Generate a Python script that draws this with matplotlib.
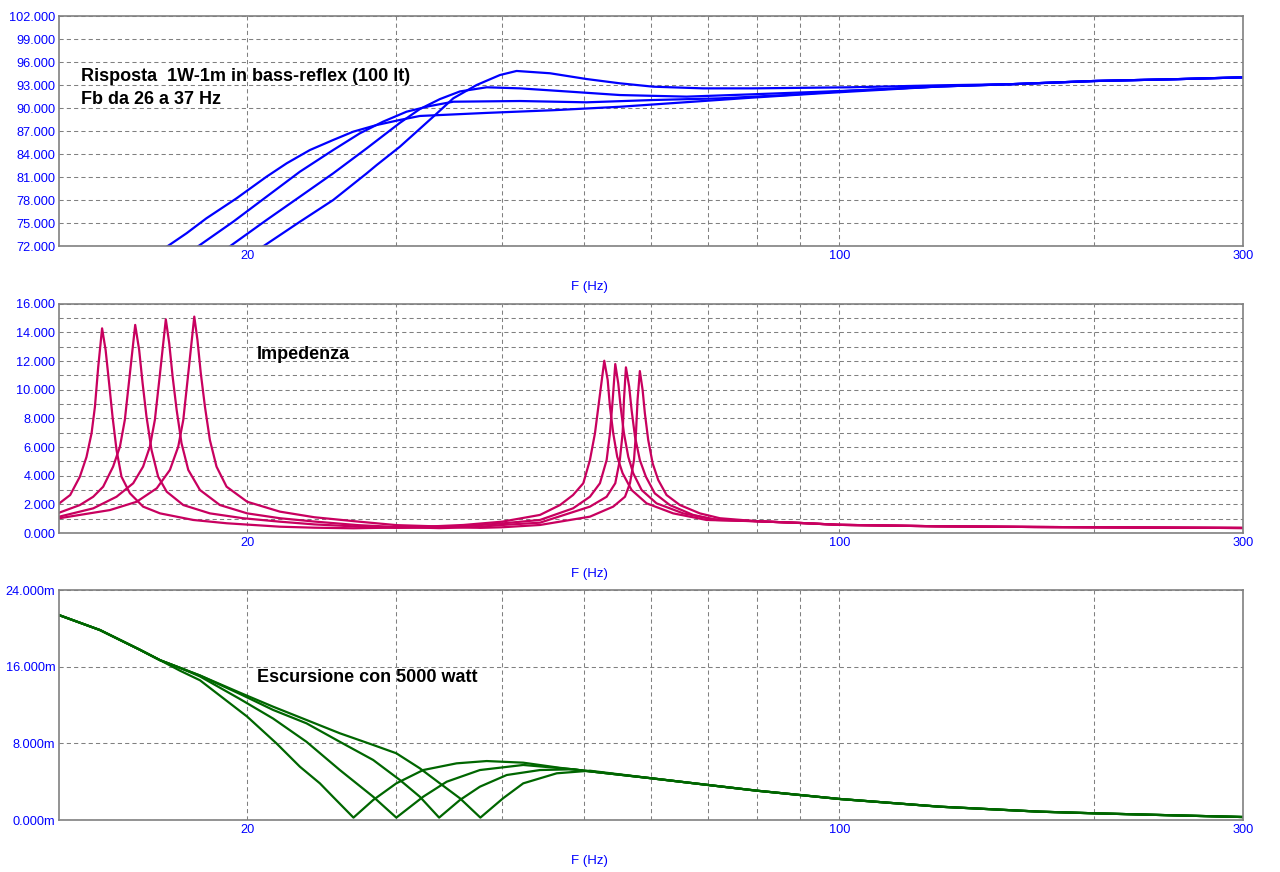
import matplotlib
matplotlib.use('Agg')
import matplotlib.pyplot as plt
from matplotlib.ticker import FixedLocator, NullFormatter

plt.rcParams['font.family'] = ['Liberation Sans', 'DejaVu Sans']

# ==========================================
# Risposta SPL 1W-1m (dB), Fb ~26.7 / 30 / 33.7 / 37.7 Hz
# ==========================================
spl_tail_f = [131.5, 160, 200, 250, 300]
spl_tail_db = [92.85, 93.15, 93.56, 93.8, 94.04]

spl_f_1 = [16.1, 16.96, 17.9, 19.43, 21.08, 22.27, 23.72, 25.27, 26.68, 28.44,
           30.29, 31.98, 38.35, 45.96, 55.08, 66.04, 79.14, 94.9] + spl_tail_f
spl_db_1 = [72.0, 73.7, 75.65, 78.26, 81.08, 82.83, 84.56, 85.87, 86.95, 87.82,
            88.48, 89.0, 89.4, 89.75, 90.2, 90.8, 91.4, 91.95] + spl_tail_db

spl_f_2 = [17.5, 19.25, 21.08, 23.08, 25.27, 27.17, 28.94, 30.85, 32.88, 35.02,
           41.98, 50.3, 60.3, 72.3, 86.7, 103] + spl_tail_f
spl_db_2 = [72.0, 75.2, 78.47, 81.73, 84.56, 86.74, 88.26, 89.56, 90.3, 90.86,
            90.95, 90.78, 91.08, 91.3, 91.73, 92.3] + spl_tail_db

spl_f_3 = [19.08, 21.08, 23.08, 25.27, 27.68, 30.29, 31.98, 33.77, 35.66, 38.35,
           41.98, 48.08, 55.08, 66.04, 79.14, 103] + spl_tail_f
spl_db_3 = [72.0, 75.43, 78.47, 81.52, 84.78, 88.1, 89.9, 91.2, 92.2, 92.74,
            92.6, 92.17, 91.73, 91.52, 91.83, 92.3] + spl_tail_db

spl_f_4 = [20.89, 23.08, 25.27, 27.68, 28.44, 30.29, 31.7, 33.47, 35.02, 37.32,
           39.76, 41.6, 45.56, 50.3, 55.08, 60.3, 69.08, 79.14, 103] + spl_tail_f
spl_db_4 = [72.0, 75.2, 78.04, 81.52, 82.6, 84.99, 86.95, 89.3, 91.3, 93.04,
            94.34, 94.87, 94.57, 93.82, 93.26, 92.82, 92.6, 92.6, 92.74] + [93.0, 93.15, 93.56, 93.8, 94.04]

# ==========================================
# Impedenza (ohm)
# ==========================================
imp_tail_f = [80, 90, 100, 130, 170, 200, 250, 300]
imp_tail_z = [0.82, 0.7, 0.57, 0.47, 0.42, 0.4, 0.37, 0.35]

imp_f_1 = [12.0, 12.36, 12.69, 12.92, 13.1, 13.22, 13.34, 13.48, 13.61, 13.74,
           13.87, 14.02, 14.21, 14.54, 15.07, 15.78, 17.27, 18.91, 21.86, 24,
           26.7, 30, 33, 36, 40, 44.33, 46.81, 48.5, 49.87, 50.78,
           51.48, 52.08, 52.8, 53.29, 53.62, 54.1, 54.69, 55.5, 56.87, 59.24,
           63.68, 69.72, 76.33] + imp_tail_f
imp_z_1 = [2.07, 2.65, 3.93, 5.3, 6.96, 8.8, 11.6, 14.28, 12.77, 10.45,
           8.1, 5.8, 3.93, 2.77, 1.84, 1.37, 0.91, 0.68, 0.44, 0.37,
           0.33, 0.38, 0.46, 0.56, 0.79, 1.26, 1.95, 2.65, 3.47, 5.09,
           6.96, 9.28, 12.02, 10.68, 8.81, 6.96, 5.32, 4.17, 3.0, 2.07,
           1.37, 0.91, 0.85] + imp_tail_z

imp_f_2 = [12.0, 12.69, 13.16, 13.52, 13.89, 14.15, 14.34, 14.54, 14.75, 14.91,
           15.05, 15.21, 15.42, 15.7, 16.07, 16.81, 18.07, 19.78, 21.86, 24,
           27, 30, 33, 36, 40, 44.33, 48.5, 50.78, 52.18, 53.14,
           53.62, 54.02, 54.4, 54.84, 55.2, 55.7, 56.36, 57.12, 58.44, 60.86,
           65.44, 70.98] + imp_tail_f
imp_z_2 = [1.42, 1.95, 2.53, 3.23, 4.63, 6.02, 7.89, 11.14, 14.52, 12.77,
           10.45, 8.12, 5.79, 3.93, 2.88, 1.95, 1.37, 1.03, 0.79, 0.6,
           0.45, 0.36, 0.38, 0.47, 0.67, 0.91, 1.72, 2.53, 3.47, 5.09,
           6.96, 9.28, 11.79, 10.45, 8.81, 6.96, 5.32, 4.17, 3.0, 2.07,
           1.37, 0.96] + imp_tail_z

imp_f_3 = [12.0, 13.16, 14.02, 14.67, 15.07, 15.35, 15.56, 15.78, 16.03, 16.18,
           16.33, 16.51, 16.73, 17.04, 17.59, 18.57, 20.0, 21.86, 24, 27,
           30, 33.7, 37, 40, 44.33, 50.78, 53.14, 54.4, 55.08, 55.5,
           55.7, 56.0, 56.5, 56.87, 57.4, 58.16, 59.12, 60.56, 63.1, 67.24,
           71.64] + imp_tail_f
imp_z_3 = [1.14, 1.72, 2.53, 3.47, 4.63, 6.02, 7.89, 11.14, 14.91, 13.24,
           10.91, 8.58, 6.26, 4.4, 3.0, 1.95, 1.37, 1.03, 0.8, 0.55,
           0.42, 0.34, 0.4, 0.56, 0.72, 1.84, 2.53, 3.47, 5.09, 6.96,
           9.28, 11.56, 10.21, 8.58, 6.72, 5.09, 3.93, 2.77, 1.95, 1.26,
           0.91] + imp_tail_z

imp_f_4 = [12.0, 13.77, 14.81, 15.64, 16.21, 16.58, 16.81, 17.04, 17.32, 17.47,
           17.63, 17.83, 18.07, 18.4, 18.91, 20.0, 21.86, 24, 27, 30,
           34, 37.7, 40, 44.33, 50.78, 54.1, 55.86, 56.62, 57.24, 57.55,
           57.8, 58.16, 58.6, 58.96, 59.5, 60.22, 61.14, 62.54, 64.85, 68.46,
           72.3] + imp_tail_f
imp_z_4 = [1.03, 1.6, 2.18, 3.12, 4.4, 6.02, 7.89, 11.14, 15.1, 13.47,
           11.14, 8.81, 6.49, 4.63, 3.23, 2.18, 1.49, 1.1, 0.8, 0.55,
           0.45, 0.36, 0.4, 0.56, 1.14, 1.84, 2.53, 3.47, 5.09, 6.96,
           9.28, 11.3, 9.98, 8.35, 6.49, 4.86, 3.7, 2.65, 1.95, 1.37,
           1.03] + imp_tail_z

# ==========================================
# Escursione con 5000 watt (mm)
# ==========================================
exc_head_f = [12.0, 13.4, 14.93, 15.78]
exc_head_x = [21.4, 19.85, 17.8, 16.7]
exc_tail_f = [60, 70, 80, 100, 131.5, 172.6, 200, 247.7, 300]
exc_tail_x = [4.36, 3.66, 3.06, 2.2, 1.39, 0.87, 0.7, 0.49, 0.31]

exc_f_1 = exc_head_f + [16.66, 17.59, 20.0, 21.66, 23.08, 24.37, 25.25, 26.7, 28.17, 30.0,
                        32.27, 35.34, 38.35, 42.36, 46.81, 50.0] + exc_tail_f
exc_x_1 = exc_head_x + [15.6, 14.6, 10.8, 8.0, 5.57, 3.83, 2.43, 0.25, 2.09, 3.83,
                        5.22, 5.92, 6.16, 5.99, 5.45, 5.15] + exc_tail_x

exc_f_2 = exc_head_f + [16.66, 17.59, 19.61, 21.46, 23.5, 25.73, 28.17, 30.0, 32.27, 34.4,
                        37.65, 42.36, 48.5, 50.0] + exc_tail_f
exc_x_2 = exc_head_x + [15.9, 15.0, 12.64, 10.6, 8.17, 5.22, 2.43, 0.25, 2.43, 4.0,
                        5.22, 5.75, 5.3, 5.15] + exc_tail_x

exc_f_3 = exc_head_f + [16.66, 17.59, 19.61, 21.46, 23.5, 25.73, 28.17, 30.29, 31.98, 33.7,
                        35.66, 37.65, 40.5, 44.33, 48.5, 50.0] + exc_tail_f
exc_x_3 = exc_head_x + [15.9, 15.1, 13.17, 11.5, 10.1, 8.17, 6.27, 4.18, 2.43, 0.25,
                        2.09, 3.48, 4.7, 5.22, 5.3, 5.15] + exc_tail_x

exc_f_4 = exc_head_f + [16.66, 17.59, 19.61, 21.46, 23.5, 25.73, 28.17, 30.0, 31.98, 33.77,
                        35.66, 37.7, 40.1, 42.36, 46.4, 50.78] + exc_tail_f
exc_x_4 = exc_head_x + [15.9, 15.1, 13.3, 11.84, 10.45, 9.06, 7.84, 6.97, 5.4, 3.83,
                        2.27, 0.25, 2.27, 3.83, 4.88, 5.15] + exc_tail_x

spl_ticks = [72, 75, 78, 81, 84, 87, 90, 93, 96, 99, 102]
imp_ticks = [0, 2, 4, 6, 8, 10, 12, 14, 16]
imp_grid = [1, 3, 5, 7, 9, 11, 13, 15]
exc_ticks = [0, 8, 16, 24]

# ------------------------------------------
W, H = 1280, 872
fig = plt.figure(figsize=(W / 100, H / 100), dpi=100)
fig.patch.set_facecolor('white')

left = 59.3 / W
width = (1243.3 - 59.3) / W


def make_ax(top_px, bot_px):
    return fig.add_axes([left, (H - bot_px) / H, width, (bot_px - top_px) / H])


def style(ax, ylim, ticks, labels, minor=None):
    ax.set_xscale('log')
    ax.set_xlim(12, 300)
    ax.set_ylim(*ylim)
    ax.set_xticks([20, 100, 300])
    ax.set_xticklabels(['20', '100', '300'])
    ax.xaxis.set_minor_locator(FixedLocator([30, 40, 50, 60, 70, 80, 90, 200]))
    ax.xaxis.set_minor_formatter(NullFormatter())
    ax.set_yticks(ticks)
    ax.set_yticklabels(labels)
    if minor:
        ax.set_yticks(minor, minor=True)
    ax.set_axisbelow(True)
    ax.grid(which='both', color='#808080', linestyle=(0, (4, 3)), linewidth=0.75)
    ax.tick_params(which='both', length=0, labelcolor='blue', labelsize=9.2, pad=3)
    for s in ax.spines.values():
        s.set_color('#808080')
        s.set_linewidth(1.2)
    ax.text(0.448, -0.177, 'F (Hz)', transform=ax.transAxes, color='blue',
            ha='center', va='center', fontsize=9.5)


# SPL
ax1 = make_ax(16.3, 246.3)
style(ax1, (72, 102), spl_ticks, ['%.3f' % t for t in spl_ticks])
for f, v in [(spl_f_1, spl_db_1), (spl_f_2, spl_db_2), (spl_f_3, spl_db_3), (spl_f_4, spl_db_4)]:
    ax1.plot(f, v, color='#0000FF', lw=1.6)
ax1.text(22.0 / 1184, 0.688, 'Risposta  1W-1m in bass-reflex (100 lt)\nFb da 26 a 37 Hz',
         transform=ax1.transAxes, fontsize=13, fontweight='bold', color='black',
         ha='left', va='center', linespacing=1.45)

# Impedenza
ax2 = make_ax(303.7, 533)
style(ax2, (0, 16), imp_ticks, ['%.3f' % t for t in imp_ticks], imp_grid)
for f, v in [(imp_f_1, imp_z_1), (imp_f_2, imp_z_2), (imp_f_3, imp_z_3), (imp_f_4, imp_z_4)]:
    ax2.plot(f, v, color='#C8005F', lw=1.6)
ax2.text(197.4 / 1184, 0.78, 'Impedenza', transform=ax2.transAxes, fontsize=13,
         fontweight='bold', color='black', ha='left', va='center')

# Escursione
ax3 = make_ax(590.3, 820)
style(ax3, (0, 24), exc_ticks, ['%.3fm' % t for t in exc_ticks])
for f, v in [(exc_f_1, exc_x_1), (exc_f_2, exc_x_2), (exc_f_3, exc_x_3), (exc_f_4, exc_x_4)]:
    ax3.plot(f, v, color='#006600', lw=1.6)
ax3.text(197.4 / 1184, 0.619, 'Escursione con 5000 watt', transform=ax3.transAxes,
         fontsize=13, fontweight='bold', color='black', ha='left', va='center')

fig.savefig('out.png', dpi=100)
